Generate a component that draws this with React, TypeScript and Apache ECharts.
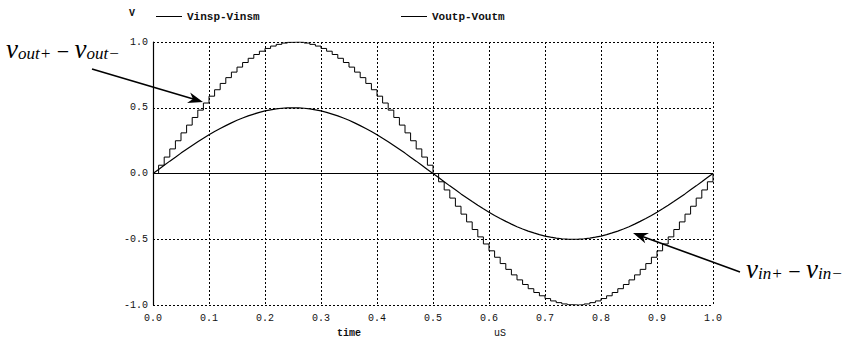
import React, { useEffect, useRef } from "react";
import * as echarts from "echarts";

// time in microseconds
const times: number[] = [
  0.0, 0.01, 0.02, 0.03, 0.04, 0.05, 0.06, 0.07, 0.08, 0.09,
  0.1, 0.11, 0.12, 0.13, 0.14, 0.15, 0.16, 0.17, 0.18, 0.19,
  0.2, 0.21, 0.22, 0.23, 0.24, 0.25, 0.26, 0.27, 0.28, 0.29,
  0.3, 0.31, 0.32, 0.33, 0.34, 0.35, 0.36, 0.37, 0.38, 0.39,
  0.4, 0.41, 0.42, 0.43, 0.44, 0.45, 0.46, 0.47, 0.48, 0.49,
  0.5, 0.51, 0.52, 0.53, 0.54, 0.55, 0.56, 0.57, 0.58, 0.59,
  0.6, 0.61, 0.62, 0.63, 0.64, 0.65, 0.66, 0.67, 0.68, 0.69,
  0.7, 0.71, 0.72, 0.73, 0.74, 0.75, 0.76, 0.77, 0.78, 0.79,
  0.8, 0.81, 0.82, 0.83, 0.84, 0.85, 0.86, 0.87, 0.88, 0.89,
  0.9, 0.91, 0.92, 0.93, 0.94, 0.95, 0.96, 0.97, 0.98, 0.99,
  1.0,
];

// Vinsp-Vinsm (smooth input, V)
const vin: number[] = [
  0, 0.031, 0.063, 0.094, 0.124, 0.155, 0.184, 0.213, 0.241, 0.268,
  0.294, 0.319, 0.342, 0.364, 0.385, 0.405, 0.422, 0.438, 0.452, 0.465,
  0.476, 0.484, 0.491, 0.496, 0.499, 0.5, 0.499, 0.496, 0.491, 0.484,
  0.476, 0.465, 0.452, 0.438, 0.422, 0.405, 0.385, 0.364, 0.342, 0.319,
  0.294, 0.268, 0.241, 0.213, 0.184, 0.155, 0.124, 0.094, 0.063, 0.031,
  0, -0.031, -0.063, -0.094, -0.124, -0.155, -0.184, -0.213, -0.241, -0.268,
  -0.294, -0.319, -0.342, -0.364, -0.385, -0.405, -0.422, -0.438, -0.452, -0.465,
  -0.476, -0.484, -0.491, -0.496, -0.499, -0.5, -0.499, -0.496, -0.491, -0.484,
  -0.476, -0.465, -0.452, -0.438, -0.422, -0.405, -0.385, -0.364, -0.342, -0.319,
  -0.294, -0.268, -0.241, -0.213, -0.184, -0.155, -0.124, -0.094, -0.063, -0.031,
  0,
];

// Voutp-Voutm (sampled & held output, V)
const vout: number[] = [
  0, 0.063, 0.125, 0.187, 0.249, 0.309, 0.368, 0.426, 0.482, 0.536,
  0.588, 0.637, 0.685, 0.729, 0.771, 0.809, 0.844, 0.876, 0.905, 0.93,
  0.951, 0.969, 0.982, 0.992, 0.998, 1.0, 0.998, 0.992, 0.982, 0.969,
  0.951, 0.93, 0.905, 0.876, 0.844, 0.809, 0.771, 0.729, 0.685, 0.637,
  0.588, 0.536, 0.482, 0.426, 0.368, 0.309, 0.249, 0.187, 0.125, 0.063,
  0, -0.063, -0.125, -0.187, -0.249, -0.309, -0.368, -0.426, -0.482, -0.536,
  -0.588, -0.637, -0.685, -0.729, -0.771, -0.809, -0.844, -0.876, -0.905, -0.93,
  -0.951, -0.969, -0.982, -0.992, -0.998, -1.0, -0.998, -0.992, -0.982, -0.969,
  -0.951, -0.93, -0.905, -0.876, -0.844, -0.809, -0.771, -0.729, -0.685, -0.637,
  -0.588, -0.536, -0.482, -0.426, -0.368, -0.309, -0.249, -0.187, -0.125, -0.063,
  0,
];

const seriesNames = ["Vinsp-Vinsm", "Voutp-Voutm"];
const xTicks = { min: 0, max: 1, interval: 0.1 };
const yTicks = { min: -1, max: 1, interval: 0.5 };

const MONO = "'Liberation Mono', 'DejaVu Sans Mono', monospace";
const SERIF = "'Liberation Serif', 'DejaVu Serif', serif";

function arrowHead(tipX: number, tipY: number, fromX: number, fromY: number, len: number, half: number) {
  const dx = tipX - fromX;
  const dy = tipY - fromY;
  const l = Math.hypot(dx, dy);
  const ux = dx / l;
  const uy = dy / l;
  const bx = tipX - ux * len;
  const by = tipY - uy * len;
  const px = -uy * half;
  const py = ux * half;
  return [
    [tipX, tipY],
    [bx + px, by + py],
    [tipX - ux * len * 0.7, tipY - uy * len * 0.7],
    [bx - px, by - py],
  ];
}

export default function App() {
  const ref = useRef<HTMLDivElement>(null);

  useEffect(() => {
    if (!ref.current) return;
    const chart = echarts.init(ref.current, undefined, { renderer: "svg" });

    const dashed = { color: "#000", type: [2, 2] as any, width: 1 };

    const a1 = { x1: 92, y1: 69, x2: 203, y2: 102 };
    const a2 = { x1: 740, y1: 272, x2: 633, y2: 233 };

    const rich = {
      v: { fontFamily: SERIF, fontStyle: "italic", fontSize: 27, lineHeight: 28, fill: "#000", verticalAlign: "bottom" },
      s: { fontFamily: SERIF, fontStyle: "italic", fontSize: 17, lineHeight: 12, fill: "#000", verticalAlign: "bottom" },
      o: { fontFamily: SERIF, fontSize: 22, lineHeight: 24, fill: "#000", verticalAlign: "bottom" },
    };

    const legendText = { fontFamily: MONO, fontSize: 11, fontWeight: "bold", color: "#111" };

    chart.setOption({
      animation: false,
      backgroundColor: "#fff",
      grid: { left: 153, right: 133, top: 42, bottom: 36, containLabel: false },
      legend: [
        {
          data: [seriesNames[0]],
          left: 151,
          top: 6,
          icon: "rect",
          itemWidth: 26,
          itemHeight: 1,
          itemGap: 4,
          textStyle: legendText,
        },
        {
          data: [seriesNames[1]],
          left: 396,
          top: 6,
          icon: "rect",
          itemWidth: 26,
          itemHeight: 1,
          itemGap: 4,
          textStyle: legendText,
        },
      ],
      xAxis: {
        type: "value",
        min: xTicks.min,
        max: xTicks.max,
        interval: xTicks.interval,
        axisLine: { show: false },
        axisTick: { show: false },
        axisLabel: {
          margin: 8,
          fontFamily: MONO,
          fontSize: 10,
          color: "#111",
          formatter: (v: number) => v.toFixed(1),
        },
        splitLine: { show: true, lineStyle: dashed },
      },
      yAxis: {
        type: "value",
        min: yTicks.min,
        max: yTicks.max,
        interval: yTicks.interval,
        axisLine: { show: true, lineStyle: { color: "#000", width: 1.2 } },
        axisTick: { show: false },
        axisLabel: {
          margin: 5,
          fontFamily: MONO,
          fontSize: 10,
          color: "#111",
          formatter: (v: number) => v.toFixed(1),
        },
        splitLine: { show: true, lineStyle: dashed },
      },
      series: [
        {
          name: seriesNames[0],
          type: "line",
          data: times.map((t, i) => [t, vin[i]]),
          showSymbol: false,
          symbol: "none",
          itemStyle: { color: "#000" },
          lineStyle: { color: "#000", width: 1.2 },
          markLine: {
            silent: true,
            symbol: "none",
            label: { show: false },
            lineStyle: { color: "#000", type: "solid", width: 1.2 },
            data: [{ yAxis: 0 }],
          },
        },
        {
          name: seriesNames[1],
          type: "line",
          step: "end",
          data: times.map((t, i) => [t, vout[i]]),
          showSymbol: false,
          symbol: "none",
          itemStyle: { color: "#000" },
          lineStyle: { color: "#000", width: 1 },
        },
      ],
      graphic: [
        {
          type: "text",
          x: 132,
          y: 13,
          style: { text: "V", font: `bold 10px ${MONO}`, fill: "#111", align: "center", verticalAlign: "middle" },
        },
        {
          type: "text",
          x: 349,
          y: 333,
          style: { text: "time", font: `bold 10px ${MONO}`, fill: "#111", align: "center", verticalAlign: "middle" },
        },
        {
          type: "text",
          x: 500,
          y: 333,
          style: { text: "uS", font: `10px ${MONO}`, fill: "#111", align: "center", verticalAlign: "middle" },
        },
        {
          type: "text",
          x: 6,
          y: 34,
          style: { text: "{v|v}{s|out+}{o| − }{v|v}{s|out−}", rich },
        },
        {
          type: "text",
          x: 746,
          y: 254,
          style: { text: "{v|v}{s|in+}{o| − }{v|v}{s|in−}", rich },
        },
        {
          type: "line",
          shape: { x1: a1.x1, y1: a1.y1, x2: a1.x2 - 8, y2: a1.y2 - 2.4 },
          style: { stroke: "#000", lineWidth: 1.6 },
          z: 100,
        },
        {
          type: "polygon",
          shape: { points: arrowHead(a1.x2, a1.y2, a1.x1, a1.y1, 15, 5.5) },
          style: { fill: "#000" },
          z: 100,
        },
        {
          type: "line",
          shape: { x1: a2.x1, y1: a2.y1, x2: a2.x2 + 8, y2: a2.y2 + 2.9 },
          style: { stroke: "#000", lineWidth: 1.6 },
          z: 100,
        },
        {
          type: "polygon",
          shape: { points: arrowHead(a2.x2, a2.y2, a2.x1, a2.y1, 15, 5.5) },
          style: { fill: "#000" },
          z: 100,
        },
      ],
    });

    return () => chart.dispose();
  }, []);

  return (
    <div
      ref={ref}
      style={{ position: "fixed", left: 0, top: 0, width: 846, height: 341, background: "#fff" }}
    />
  );
}
